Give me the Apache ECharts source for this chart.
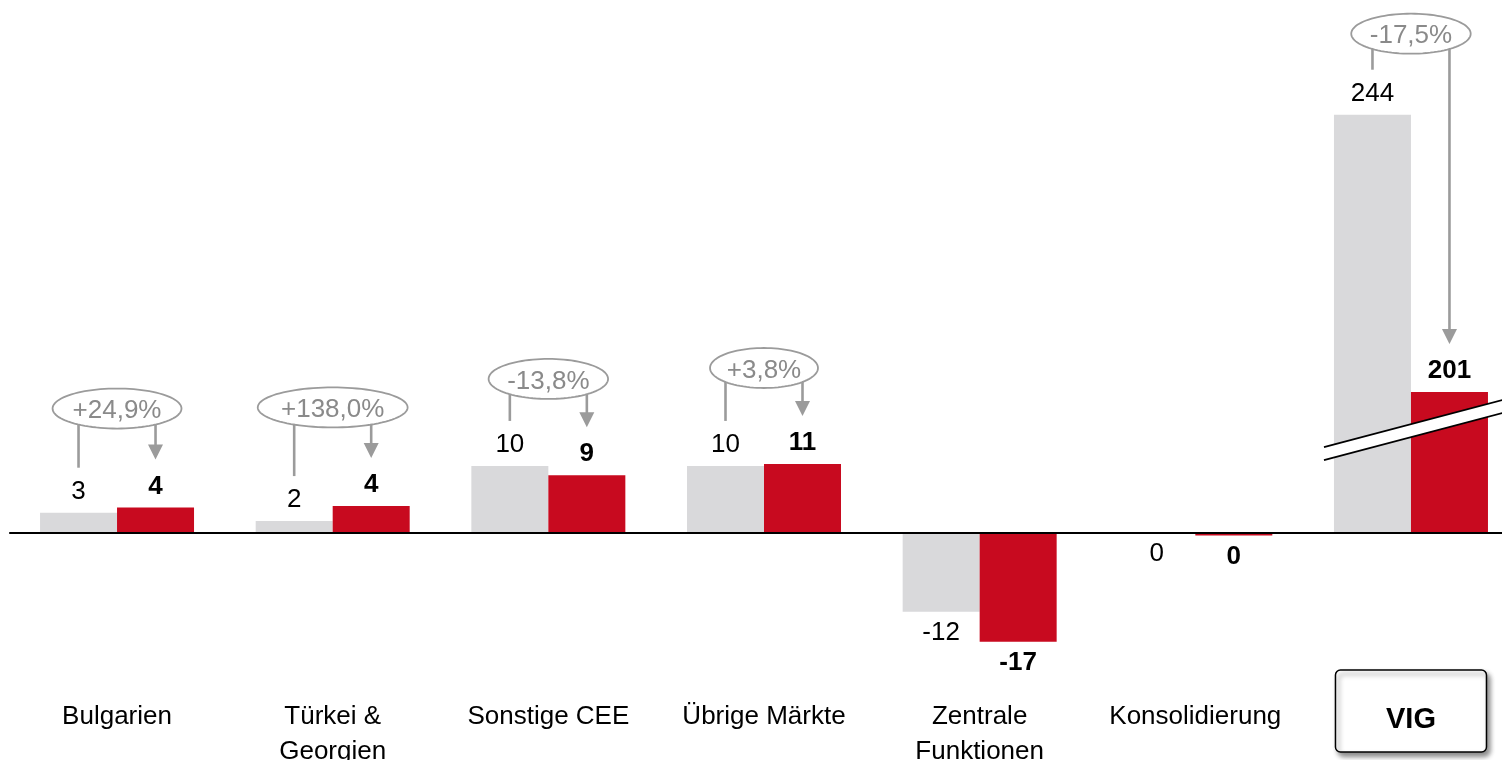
<!DOCTYPE html>
<html>
<head>
<meta charset="utf-8">
<script src="https://cdn.jsdelivr.net/npm/echarts@6/dist/echarts.min.js"></script>
<style>
html,body{margin:0;padding:0;background:#fff;}
#chart{width:1502px;height:760px;}
</style>
</head>
<body>
<div id="chart"></div>
<script>
// ---------------- data ----------------
const categories = ['Bulgarien', 'Türkei &\nGeorgien', 'Sonstige CEE', 'Übrige Märkte', 'Zentrale\nFunktionen', 'Konsolidierung', 'VIG'];
const prevYear = [3.1, 1.8, 10.35, 10.35, -12.25, 0, 244];
const currYear = [3.9, 4.15, 8.9, 10.65, -16.9, -0.45, 201];
const changeLabels = ['+24,9%', '+138,0%', '-13,8%', '+3,8%', null, null, '-17,5%'];
const axisBreakRange = [17.4, 196.6];

// ---------------- style / layout ----------------
const FONT = '"Liberation Sans", Arial, Helvetica, sans-serif';
const GREY = '#d9d9db';
const RED = '#c80a1f';
const ANN = '#9b9b9b';
const BAR_W = 77;
const ellipseRise = [99, 98.5, 87, 96, 0, 0, 81]; // ellipse centre above the taller bar

function labelFor(v) {
  return String(Math.round(v) || 0);
}
function seriesData(arr) {
  return arr.map(v => ({ value: v, label: { position: v <= 0 ? 'bottom' : 'top' } }));
}

const chart = echarts.init(document.getElementById('chart'), null, { renderer: 'canvas' });

const option = {
  animation: false,
  backgroundColor: '#fff',
  textStyle: { fontFamily: FONT },
  grid: { left: 9.2, right: -16.8, top: 76, bottom: 98.3, containLabel: false, outerBoundsMode: 'none' },
  xAxis: {
    type: 'category',
    data: categories,
    z: 10,
    axisLine: { show: false, onZero: false },
    axisTick: { show: false },
    axisLabel: {
      interval: 0,
      margin: 38,
      color: '#000',
      fontFamily: FONT,
      fontSize: 26,
      lineHeight: 35,
      formatter: function (val) {
        if (val === 'VIG') return '{vig|VIG}';
        return val.split('\n').map(s => '{n|' + s + '}').join('\n');
      },
      rich: {
        n: { fontFamily: FONT, fontSize: 26, lineHeight: 35, color: '#000' },
        vig: { fontFamily: FONT, fontSize: 29, fontWeight: 'bold', lineHeight: 40, color: '#000' }
      }
    }
  },
  yAxis: {
    type: 'value',
    min: -20,
    max: 250,
    axisLine: { show: false },
    axisTick: { show: false },
    axisLabel: { show: false },
    splitLine: { show: false },
    breaks: [{ start: axisBreakRange[0], end: axisBreakRange[1], gap: 0 }],
    breakArea: {
      show: false,
      itemStyle: { opacity: 0, borderWidth: 0 },
      expandOnClick: false
    }
  },
  series: [
    {
      name: 'Vorjahr',
      type: 'bar',
      data: seriesData(prevYear),
      barWidth: BAR_W,
      barGap: '0%',
      itemStyle: { color: GREY },
      label: {
        show: true,
        distance: 8,
        color: '#000',
        fontFamily: FONT,
        fontSize: 26,
        formatter: p => labelFor(p.value)
      }
    },
    {
      name: 'Aktuell',
      type: 'bar',
      data: seriesData(currYear),
      barWidth: BAR_W,
      barGap: '0%',
      itemStyle: { color: RED },
      label: {
        show: true,
        distance: 8,
        color: '#000',
        fontFamily: FONT,
        fontSize: 26,
        fontWeight: 'bold',
        formatter: p => labelFor(p.value)
      },
      markLine: {
        silent: true,
        symbol: ['none', 'none'],
        label: { show: false },
        lineStyle: { color: '#000', width: 2, type: 'solid' },
        data: [{ yAxis: 0 }]
      }
    }
  ]
};

chart.setOption(option);

// ---------------- annotations (derived from the chart's own scales) ----------------
const measureCtx = document.createElement('canvas').getContext('2d');
function textWidth(t, font) { measureCtx.font = font; return measureCtx.measureText(t).width; }

const graphics = [];
const half = BAR_W / 2;
const px = (i, v) => chart.convertToPixel({ gridIndex: 0 }, [i, v]);

categories.forEach((cat, i) => {
  const cx = px(i, 0)[0];
  const greyX = cx - half, redX = cx + half;
  const greyTop = px(i, prevYear[i])[1];
  const redTop = px(i, currYear[i])[1];

  if (changeLabels[i]) {
    const txt = changeLabels[i];
    const tw = textWidth(txt, '26px ' + FONT);
    const rx = tw * 1.45 / 2;
    const ry = 20;
    const cy = Math.min(greyTop, redTop) - ellipseRise[i];
    const pts = [];
    for (let k = 0; k < 96; k++) {
      const a = (k / 96) * Math.PI * 2;
      pts.push([cx + rx * Math.cos(a), cy + ry * Math.sin(a)]);
    }
    // left connector (from prior-year label)
    graphics.push({
      type: 'line', z: 100, silent: true,
      shape: { x1: greyX, y1: cy, x2: greyX, y2: greyTop - 45 },
      style: { stroke: ANN, lineWidth: 2.6 }
    });
    // right connector with arrow (to current-year label)
    const tip = redTop - 48;
    graphics.push({
      type: 'line', z: 100, silent: true,
      shape: { x1: redX, y1: cy, x2: redX, y2: tip - 13 },
      style: { stroke: ANN, lineWidth: 2.6 }
    });
    graphics.push({
      type: 'polygon', z: 100, silent: true,
      shape: { points: [[redX - 7.5, tip - 15], [redX + 7.5, tip - 15], [redX, tip]] },
      style: { fill: ANN }
    });
    graphics.push({
      type: 'polygon', z: 101, silent: true,
      shape: { points: pts },
      style: { fill: '#fff', stroke: ANN, lineWidth: 1.8 }
    });
    graphics.push({
      type: 'text', z: 102, silent: true,
      x: cx, y: cy + 2.5,
      style: { text: txt, fill: '#8a8a8a', font: '26px ' + FONT, align: 'center', verticalAlign: 'middle' }
    });
  }
});

// axis-break marker across the VIG bars
(function () {
  const i = categories.indexOf('VIG');
  const cx = px(i, 0)[0];
  const redX = cx + half;
  const yB = px(i, axisBreakRange[0])[1];
  const slope = -0.264;
  const xL = cx - 87, xR = cx + 100;
  const yAt = x => yB + slope * (x - redX);
  const h = 6.5;
  graphics.push({
    type: 'polygon', z: 90, silent: true,
    shape: { points: [[xL, yAt(xL) - h], [xR, yAt(xR) - h], [xR, yAt(xR) + h], [xL, yAt(xL) + h]] },
    style: { fill: '#fff' }
  });
  graphics.push({
    type: 'line', z: 91, silent: true,
    shape: { x1: xL, y1: yAt(xL) - h, x2: xR, y2: yAt(xR) - h },
    style: { stroke: '#000', lineWidth: 1.8 }
  });
  graphics.push({
    type: 'line', z: 91, silent: true,
    shape: { x1: xL, y1: yAt(xL) + h, x2: xR, y2: yAt(xR) + h },
    style: { stroke: '#000', lineWidth: 1.8 }
  });

  // framed box behind the "VIG" category label
  const gridBottom = px(i, -20)[1];
  const bw = 151, bh = 82;
  graphics.push({
    type: 'rect', z: 1, silent: true,
    shape: { x: cx - bw / 2, y: gridBottom + 8.3, width: bw, height: bh, r: 5 },
    style: {
      fill: '#fff', stroke: '#000', lineWidth: 1.5,
      shadowBlur: 5, shadowOffsetX: 3, shadowOffsetY: 4, shadowColor: 'rgba(0,0,0,0.45)'
    }
  });
})();

chart.setOption({ graphic: { elements: graphics } });
</script>
</body>
</html>
